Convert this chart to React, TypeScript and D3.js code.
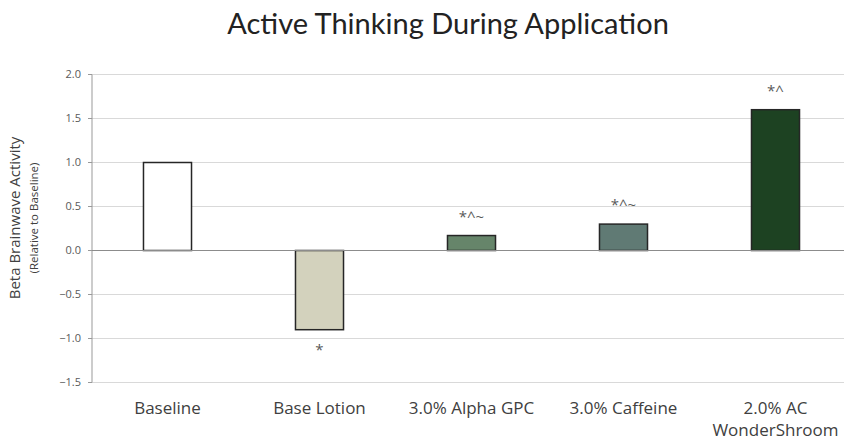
import React from "react";
import * as d3 from "d3";

const categories = ["Baseline", "Base Lotion", "3.0% Alpha GPC", "3.0% Caffeine", "2.0% AC WonderShroom"];
const labelLines = [["Baseline"], ["Base Lotion"], ["3.0% Alpha GPC"], ["3.0% Caffeine"], ["2.0% AC", "WonderShroom"]];
const values = [1.0, -0.9, 0.17, 0.3, 1.6];
const annotations = ["", "*", "*^~", "*^~", "*^"];
const colors = ["#ffffff", "#d3d2bd", "#66856a", "#607a74", "#1d4222"];
const yTicks = [-1.5, -1.0, -0.5, 0.0, 0.5, 1.0, 1.5, 2.0];

const W = 844;
const H = 441;
const titleFont = "Lato, sans-serif";
const font = "'Open Sans', 'Noto Sans', sans-serif";

export default function App() {
  const x = d3.scaleBand<string>().domain(categories).range([91.5, 851.5]).paddingInner(0.684).paddingOuter(0.342);
  const y = d3.scaleLinear().domain([-1.5, 2.0]).range([382.5, 74.5]);
  const axisX = 92;
  const rightEdge = 844;
  return (
    <svg width={W} height={H} style={{ position: "absolute", left: 0, top: 0, background: "#fff" }}>
      <text x={448} y={34} textAnchor="middle" fontFamily={titleFont} fontSize={29} fill="#222">
        Active Thinking During Application
      </text>
      {yTicks.map((t) => (
        <g key={t}>
          {t !== 0 && (
            <line x1={axisX} x2={rightEdge} y1={y(t)} y2={y(t)} stroke="#d9d9d9" strokeWidth={1} />
          )}
          <line x1={axisX - 4} x2={axisX} y1={y(t)} y2={y(t)} stroke="#999" strokeWidth={1} />
          <text x={81} y={y(t)} dy="0.35em" textAnchor="end" fontFamily={font} fontSize={11} fill="#595959">
            {d3.format(".1f")(t)}
          </text>
        </g>
      ))}
      <line x1={axisX} x2={axisX} y1={y(2)} y2={y(-1.5)} stroke="#999" strokeWidth={1} />
      {categories.map((c, i) => {
        const v = values[i];
        const top = Math.min(y(v), y(0));
        const h = Math.abs(y(v) - y(0));
        return (
          <rect key={c} x={x(c)} y={top} width={x.bandwidth()} height={h} fill={colors[i]} stroke="#262626" strokeWidth={1.5} />
        );
      })}
      <line x1={axisX} x2={rightEdge} y1={y(0)} y2={y(0)} stroke="#8c8c8c" strokeWidth={1.2} />
      {categories.map((c, i) => {
        const v = values[i];
        const cx = (x(c) as number) + x.bandwidth() / 2;
        const ty = v >= 0 ? y(v) - 14 : y(v) + 25;
        return (
          <text key={c} x={cx} y={ty} textAnchor="middle" fontFamily={font} fontSize={15} fill="#595959">
            {annotations[i]}
          </text>
        );
      })}
      {categories.map((c, i) => {
        const cx = (x(c) as number) + x.bandwidth() / 2;
        return (
          <text key={c} x={cx} y={414} textAnchor="middle" fontFamily={font} fontSize={17} fill="#404040">
            {labelLines[i].map((l, j) => (
              <tspan key={j} x={cx} dy={j === 0 ? 0 : 22}>
                {l}
              </tspan>
            ))}
          </text>
        );
      })}
      <text transform={`translate(20,${218}) rotate(-90)`} textAnchor="middle" fontFamily={font} fontSize={15} fill="#404040">
        Beta Brainwave Activity
      </text>
      <text transform={`translate(38,${218}) rotate(-90)`} textAnchor="middle" fontFamily={font} fontSize={11.5} fill="#404040">
        (Relative to Baseline)
      </text>
    </svg>
  );
}
